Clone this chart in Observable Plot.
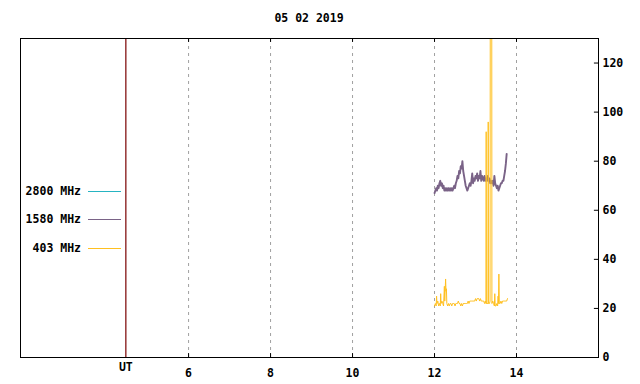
<!DOCTYPE html>
<html>
<head>
<meta charset="utf-8">
<script src="https://cdn.jsdelivr.net/npm/d3@7"></script>
<script src="https://cdn.jsdelivr.net/npm/@observablehq/plot@0.6"></script>
<style>
  html, body { margin: 0; padding: 0; background: #fff; }
  #wrap { position: relative; width: 640px; height: 384px; font-family: "DejaVu Sans Mono", monospace; font-weight: bold; font-size: 11.5px; }
  #title { position: absolute; left: 0; width: 618px; top: 11px; text-align: center; }
  .lg { position: absolute; left: 0; width: 122px; height: 14px; }
  .lg span { position: absolute; right: 41px; top: 0; line-height: 14px; white-space: pre; }
  .lg i { position: absolute; left: 88px; width: 33px; top: 7px; height: 1px; }
</style>
</head>
<body>
<div id="wrap"><div id="title"></div></div>
<script>
const titleText = "05 02 2019";
const xTicks = [6, 8, 10, 12, 14];
const yTicks = [0, 20, 40, 60, 80, 100, 120];
const utPos = 4.47;
const utLabel = "UT";
const legendLabels = ["2800 MHz", "1580 MHz", " 403 MHz"];
const legendColors = ["#26b4c2", "#7a6387", "#ffc020"];

const hours1580 = [12.00,12.02,12.04,12.06,12.08,12.10,12.12,12.14,12.16,12.18,12.20,12.22,12.24,12.26,12.28,12.30,12.32,12.34,12.36,12.38,12.40,12.42,12.44,12.46,12.48,12.50,12.52,12.54,12.56,12.58,12.60,12.62,12.64,12.66,12.68,12.70,12.72,12.74,12.76,12.78,12.80,12.82,12.84,12.86,12.88,12.90,12.92,12.94,12.96,12.98,13.00,13.02,13.04,13.06,13.08,13.10,13.12,13.14,13.16,13.18,13.20,13.22,13.24,13.26,13.28,13.30,13.32,13.34,13.36,13.38,13.40,13.42,13.44,13.46,13.48,13.50,13.52,13.54,13.56,13.58,13.60,13.62,13.64,13.66,13.68,13.70,13.72,13.74,13.76];
const flux1580 = [67,68,69,68,70,69,71,72,70,71,69,70,68,69,68,69,68,69,68,69,68,69,68,69,70,69,71,72,74,73,76,75,78,77,80,76,74,72,70,69,68,69,70,71,70,72,75,71,73,72,74,73,75,72,74,73,76,72,74,73,72,74,72,73,72,74,72,73,71,72,71,72,70,74,71,70,69,70,68,69,70,71,71,72,72,74,76,79,83];

const hours403 = [12.00,12.02,12.04,12.05,12.06,12.08,12.10,12.12,12.14,12.15,12.16,12.18,12.20,12.22,12.24,12.25,12.27,12.28,12.29,12.30,12.32,12.34,12.36,12.38,12.40,12.42,12.44,12.46,12.48,12.50,12.52,12.54,12.56,12.58,12.60,12.62,12.64,12.66,12.68,12.70,12.72,12.74,12.76,12.78,12.80,12.82,12.84,12.86,12.88,12.90,12.92,12.94,12.96,12.98,13.00,13.02,13.04,13.06,13.08,13.10,13.12,13.14,13.16,13.18,13.20,13.22,13.24,13.255,13.26,13.265,13.30,13.305,13.31,13.315,13.34,13.355,13.36,13.37,13.38,13.39,13.395,13.40,13.42,13.44,13.46,13.47,13.48,13.50,13.52,13.54,13.55,13.56,13.57,13.58,13.60,13.62,13.64,13.66,13.68,13.70,13.72,13.74,13.76,13.78];
const flux403 = [21,22,21,25,22,23,21,22,21,26,22,23,22,21,29,23,32,27,28,22,21,22,21,22,22,21,22,22,22,21,22,22,22,23,22,22,21,22,21,22,22,22,22,22,22,23,22,23,23,23,23,23,23,23,24,23,24,24,24,23,24,23,23,23,23,22,23,22,92,22,22,22,96,22,22,23,160,200,180,210,170,22,23,22,21,26,21,21,22,21,25,22,34,22,22,23,22,23,23,23,23,23,23,24,23];

const s1580 = hours1580.map((h, i) => ({h, v: flux1580[i]}));
const s403 = hours403.map((h, i) => ({h, v: flux403[i]}));

const chart = Plot.plot({
  width: 640,
  height: 384,
  marginLeft: 20,
  marginRight: 42,
  marginTop: 38,
  marginBottom: 27,
  style: { fontFamily: "'DejaVu Sans Mono', monospace", fontWeight: "bold", fontSize: "11.5px", color: "#000", background: "#fff", overflow: "visible" },
  x: { domain: [1.9, 16], label: null },
  y: { domain: [0, 130], label: null },
  marks: [
    Plot.ruleX(xTicks, { x: d => d, y1: 0, y2: 130, stroke: "#a0a0a0", strokeDasharray: "3,4", strokeOpacity: 1 }),
    Plot.ruleX(xTicks, { x: d => d, y1: 0, y2: 1.6, stroke: "#000", strokeOpacity: 1 }),
    Plot.ruleX(xTicks, { x: d => d, y1: 128.4, y2: 130, stroke: "#000", strokeOpacity: 1 }),
    Plot.ruleY(yTicks, { y: d => d, x1: 15.9, x2: 16, stroke: "#000", strokeOpacity: 1 }),
    Plot.ruleX([utPos], { x: d => d, y1: 0, y2: 130, stroke: "#7a0000", strokeOpacity: 1, strokeWidth: 1.2 }),
    Plot.line(s1580, { x: "h", y: "v", stroke: legendColors[1], strokeWidth: 1.9, clip: true }),
    Plot.line(s403, { x: "h", y: "v", stroke: legendColors[2], strokeWidth: 1, clip: true }),
    Plot.frame({ stroke: "#000", strokeOpacity: 1 }),
    Plot.axisX({ ticks: xTicks, tickSize: 0, tickPadding: 11, tickFormat: d => String(d), fill: "#000", label: null }),
    Plot.text([utLabel], { x: () => utPos, frameAnchor: "bottom", text: d => d, dy: 13, fill: "#000" }),
    Plot.axisY({ anchor: "right", ticks: yTicks, tickSize: 0, tickPadding: 4, tickFormat: d => String(d), fill: "#000", label: null })
  ]
});
const wrap = document.getElementById("wrap");
wrap.insertBefore(chart, wrap.firstChild);
chart.style.position = "absolute";
chart.style.left = "0";
chart.style.top = "0";
document.getElementById("title").textContent = titleText;

const legendTops = [184, 212, 241];
legendLabels.forEach((lab, i) => {
  const row = document.createElement("div");
  row.className = "lg";
  row.style.top = legendTops[i] + "px";
  const t = document.createElement("span");
  t.textContent = lab;
  const ln = document.createElement("i");
  ln.style.background = legendColors[i];
  row.appendChild(t);
  row.appendChild(ln);
  wrap.appendChild(row);
});
</script>
</body>
</html>
